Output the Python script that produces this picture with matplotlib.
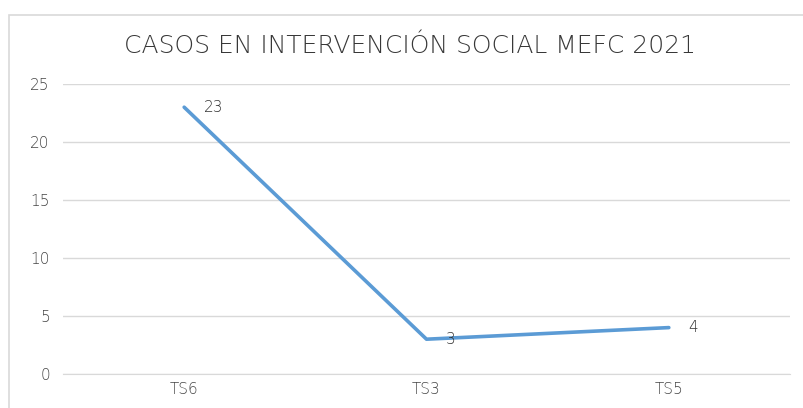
import matplotlib.pyplot as plt
from matplotlib.patches import Rectangle

categories = ["TS6", "TS3", "TS5"]
values = [23, 3, 4]
yticks = [0, 5, 10, 15, 20, 25]

title = "CASOS EN INTERVENCIÓN SOCIAL MEFC 2021"
text_color = "#454545"
line_color = "#5B9BD5"
grid_color = "#D9D9D9"

plt.rcParams["font.family"] = ["DejaVu Sans"]

fig = plt.figure(figsize=(8.04, 4.08), dpi=100)
W, H = 804, 408

# chart frame
fig.patches.append(Rectangle((9 / W, -0.05), 1.0, (408 - 15) / H + 0.05,
                             transform=fig.transFigure, fill=False,
                             edgecolor="#D9D9D9", linewidth=1.2))

ax = fig.add_axes([63 / W, 34 / H, 727 / W, 290 / H])
x = [i + 0.5 for i in range(len(categories))]
ax.plot(x, values, color=line_color, linewidth=2.6, solid_capstyle="round",
        solid_joinstyle="round")

for xi, v in zip(x, values):
    ax.annotate(str(v), (xi, v), xytext=(14, 0), textcoords="offset points",
                ha="left", va="center", fontsize=11, color="#333333",
                fontweight="light")

ax.set_xlim(0, len(categories))
ax.set_ylim(0, 25)
ax.set_yticks(yticks)
ax.set_xticks(x)
ax.set_xticklabels(categories)
ax.yaxis.grid(True, color=grid_color, linewidth=1.0)
ax.set_axisbelow(True)
for s in ax.spines.values():
    s.set_visible(False)
ax.spines["bottom"].set_visible(True)
ax.spines["bottom"].set_color(grid_color)
ax.tick_params(axis="both", length=0, labelsize=11, labelcolor=text_color)
ax.tick_params(axis="y", pad=9.5)
ax.tick_params(axis="x", pad=6)
for lbl in ax.get_xticklabels() + ax.get_yticklabels():
    lbl.set_fontweight("light")

fig.text(410 / W, (408 - 46) / H, title, ha="center", va="center",
         fontsize=18, color="#383838", fontweight="light")

fig.savefig("out.png", dpi=100)
